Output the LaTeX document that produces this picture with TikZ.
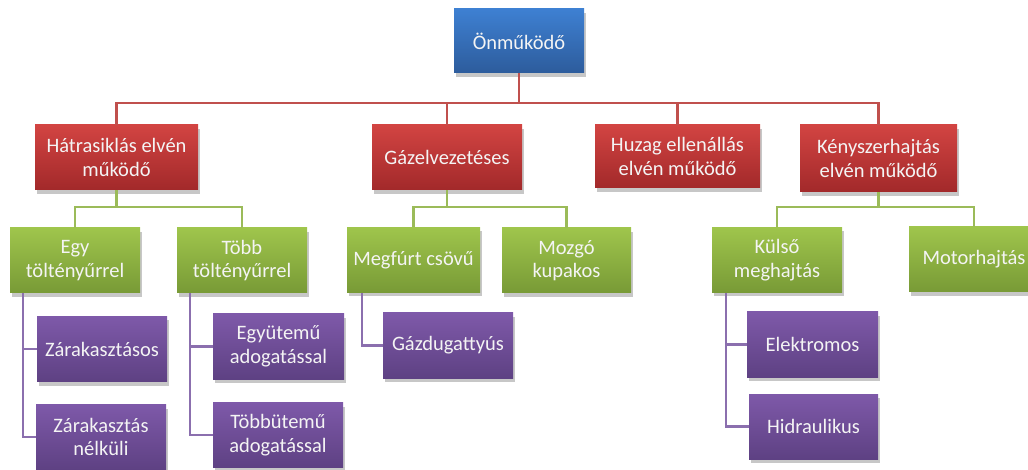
\documentclass[tikz,border=0pt]{standalone}
\usepackage{fontspec}
\setmainfont{Carlito}
\usetikzlibrary{shadows}
\definecolor{txt}{HTML}{F4F4F4}
\definecolor{blueT}{HTML}{3E80D2}
\definecolor{blueB}{HTML}{2D5C9C}
\definecolor{redT}{HTML}{D24442}
\definecolor{redB}{HTML}{A2292A}
\definecolor{greenT}{HTML}{9FC54C}
\definecolor{greenB}{HTML}{789A36}
\definecolor{purT}{HTML}{7E59A9}
\definecolor{purB}{HTML}{5E4183}
\definecolor{redL}{HTML}{C0504D}
\definecolor{greenL}{HTML}{9BBB59}
\definecolor{purL}{HTML}{8B6FAE}
\tikzset{
  box/.style={rectangle, inner sep=0pt, align=center, text=txt,
    font=\fontsize{20.5}{23.5}\selectfont,
    drop shadow={shadow xshift=2pt, shadow yshift=-4pt, opacity=0.22, fill=black}},
  bluebox/.style={box, top color=blueT, bottom color=blueB},
  redbox/.style={box, top color=redT, bottom color=redB},
  greenbox/.style={box, top color=greenT, bottom color=greenB, minimum width=130pt, minimum height=65pt},
  purbox/.style={box, top color=purT, bottom color=purB, minimum width=130pt, minimum height=65pt},
  redline/.style={draw=redL, line width=2.2pt},
  greenline/.style={draw=greenL, line width=2.2pt},
  purline/.style={draw=purL, line width=2.2pt},
}
\begin{document}
\begin{tikzpicture}[x=1pt,y=-1pt]
\useasboundingbox (0,0) rectangle (1028,470);
\clip (0,0) rectangle (1028,470);
\node[bluebox, minimum width=130pt, minimum height=64pt] (top) at (519,41) {Önműködő};
\node[redbox, minimum width=163pt, minimum height=65pt] (hat) at (116.5,157.5) {Hátrasiklás elvén\\működő};
\node[redbox, minimum width=150pt, minimum height=65pt] (gaz) at (447,157.5) {Gázelvezetéses};
\node[redbox, minimum width=165pt, minimum height=63pt] (huz) at (677.5,156.5) {Huzag ellenállás\\elvén működő};
\node[redbox, minimum width=157pt, minimum height=67pt] (kny) at (878.5,158.5) {Kényszerhajtás\\elvén működő};

\node[greenbox] (egy) at (75,260.5) {Egy\\töltényűrrel};
\node[greenbox] (tobb) at (242,260.5) {Több\\töltényűrrel};
\node[greenbox, minimum width=133pt] (megf) at (413.5,260) {Megfúrt csövű};
\node[greenbox, minimum width=129pt] (mozg) at (566.5,260.5) {Mozgó\\kupakos};
\node[greenbox] (kuls) at (777,260) {Külső\\meghajtás};
\node[greenbox] (motor) at (974,259.5) {Motorhajtás};

\node[purbox] (zar) at (102,349) {Zárakasztásos};
\node[purbox] (zarn) at (101,437) {Zárakasztás\\nélküli};
\node[purbox, minimum width=131pt] (egyut) at (278.5,346.5) {Együtemű\\adogatással};
\node[purbox] (tobbut) at (278,435) {Többütemű\\adogatással};
\node[purbox] (gazd) at (448,345.5) {Gázdugattyús};
\node[purbox, minimum width=131pt] (elek) at (812.5,344.5) {Elektromos};
\node[purbox, minimum width=129pt] (hidr) at (813.5,426.5) {Hidraulikus};

% red level
\foreach \c in {hat,gaz,huz,kny}
  \draw[redline] (top.south) -- ++(0,30) -| (\c.north);
% green level
\foreach \c in {egy,tobb}
  \draw[greenline] (hat.south) -- ++(0,17) -| (\c.north);
\foreach \c in {megf,mozg}
  \draw[greenline] (gaz.south) -- ++(0,17) -| (\c.north);
\foreach \c in {kuls,motor}
  \draw[greenline] (kny.south) -- ++(0,15) -| (\c.north);
% purple level
\foreach \c in {zar,zarn}
  \draw[purline] ([xshift=13pt]egy.south west) |- (\c.west);
\foreach \c in {egyut,tobbut}
  \draw[purline] ([xshift=13pt]tobb.south west) |- (\c.west);
\draw[purline] ([xshift=15pt]megf.south west) |- (gazd.west);
\foreach \c in {elek,hidr}
  \draw[purline] ([xshift=14pt]kuls.south west) |- (\c.west);
\end{tikzpicture}
\end{document}
